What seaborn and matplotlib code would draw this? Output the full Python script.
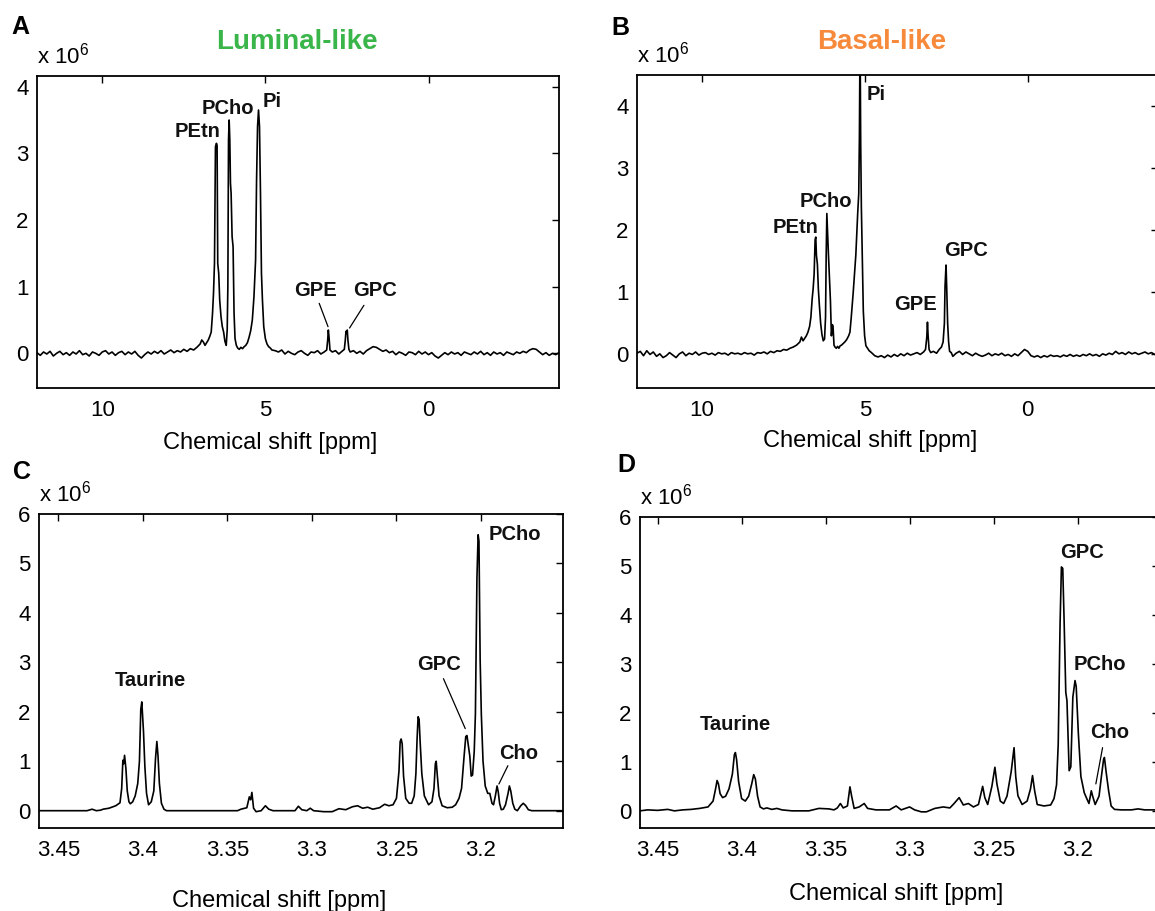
import matplotlib
matplotlib.use("Agg")
import matplotlib.pyplot as plt
import seaborn as sns

# ---------------- data (intensities in units of 1e6) ----------------
# Panel A: 31P spectrum, luminal-like
a_ppm = [12.0, 11.9, 11.8, 11.7, 11.6, 11.5, 11.4, 11.3, 11.2, 11.1,
         11.0, 10.9, 10.8, 10.7, 10.6, 10.5, 10.4, 10.3, 10.2, 10.1,
         10.0, 9.9, 9.8, 9.7, 9.6, 9.5, 9.4, 9.3, 9.2, 9.1,
         9.0, 8.9, 8.8, 8.7, 8.6, 8.5, 8.4, 8.3, 8.2, 8.1,
         8.0, 7.9, 7.8, 7.7, 7.6, 7.5, 7.4, 7.3, 7.2, 7.1,
         7.0, 6.95, 6.9, 6.85, 6.8, 6.75, 6.7, 6.66, 6.62, 6.59,
         6.56, 6.53, 6.5, 6.48, 6.46, 6.43, 6.4, 6.36, 6.32, 6.28,
         6.24, 6.2, 6.17, 6.15, 6.13, 6.11, 6.09, 6.07, 6.05, 6.02,
         5.99, 5.96, 5.93, 5.89, 5.85, 5.8, 5.75, 5.7, 5.65, 5.6,
         5.55, 5.5, 5.45, 5.4, 5.35, 5.3, 5.27, 5.24, 5.21, 5.18,
         5.15, 5.12, 5.09, 5.05, 5.0, 4.95, 4.9, 4.85, 4.8,
         4.7, 4.6, 4.5, 4.4, 4.3, 4.2, 4.1, 4.0, 3.9, 3.8,
         3.7, 3.6, 3.5, 3.4, 3.3, 3.2,
         3.12, 3.09, 3.07, 3.05, 3.02, 2.95, 2.85, 2.75, 2.65, 2.58,
         2.55, 2.53, 2.51, 2.49, 2.47, 2.44, 2.4,
         2.3, 2.2, 2.1, 2.0, 1.9, 1.8, 1.7, 1.6, 1.5, 1.4,
         1.3, 1.2, 1.1, 1.0, 0.9, 0.8, 0.7, 0.6, 0.5, 0.4,
         0.3, 0.2, 0.1, 0.0, -0.1, -0.2, -0.3, -0.4, -0.5, -0.6,
         -0.7, -0.8, -0.9, -1.0, -1.1, -1.2, -1.3, -1.4, -1.5, -1.6,
         -1.7, -1.8, -1.9, -2.0, -2.1, -2.2, -2.3, -2.4, -2.5, -2.6,
         -2.7, -2.8, -2.9, -3.0, -3.1, -3.2, -3.3, -3.4, -3.5, -3.6,
         -3.7, -3.8, -3.9, -4.0]
a_int = [0.01, -0.03, 0.02, -0.01, 0.03, -0.04, 0.00, 0.03, -0.02, 0.01,
         -0.03, 0.02, -0.01, 0.04, -0.02, 0.00, -0.04, 0.02, 0.00, -0.03,
         0.02, 0.04, -0.01, 0.02, -0.03, 0.01, 0.03, -0.02, 0.02, -0.01,
         0.03, -0.03, -0.07, -0.02, 0.02, -0.01, 0.03, 0.00, 0.04, -0.01,
         0.02, 0.05, 0.01, 0.04, 0.02, 0.06, 0.03, 0.07, 0.05, 0.09,
         0.14, 0.20, 0.17, 0.12, 0.16, 0.20, 0.26, 0.32, 0.60, 0.90,
         1.35, 3.10, 3.15, 3.12, 1.35, 1.20, 0.80, 0.55, 0.40, 0.32,
         0.18, 0.12, 0.35, 1.00, 3.20, 3.50, 3.20, 2.55, 2.40, 1.75,
         1.60, 0.60, 0.22, 0.12, 0.08, 0.06, 0.09, 0.07, 0.10, 0.12,
         0.16, 0.24, 0.34, 0.50, 0.85, 1.40, 2.60, 3.40, 3.65, 3.40,
         2.40, 1.20, 0.80, 0.40, 0.22, 0.14, 0.10, 0.08, 0.05,
         0.04, 0.02, 0.05, -0.01, 0.03, 0.00, -0.02, 0.02, 0.04, 0.00,
         -0.03, 0.02, 0.01, 0.04, -0.01, 0.02,
         0.05, 0.20, 0.35, 0.25, 0.05, 0.02, 0.04, -0.01, 0.03, 0.06,
         0.20, 0.33, 0.30, 0.35, 0.20, 0.06, 0.02,
         0.04, 0.00, 0.03, -0.01, 0.04, 0.07, 0.10, 0.09, 0.06, 0.03,
         0.05, 0.01, 0.03, -0.02, 0.02, 0.00, -0.03, 0.02, 0.01, -0.02,
         0.03, -0.01, 0.02, -0.02, 0.01, -0.04, -0.07, -0.03, 0.01, -0.02,
         0.02, -0.01, 0.01, -0.03, 0.02, 0.00, -0.02, 0.02, -0.01, 0.03,
         -0.02, 0.01, -0.03, 0.02, -0.01, 0.01, -0.03, 0.02, 0.00, -0.02,
         0.02, 0.00, 0.03, 0.01, 0.05, 0.07, 0.06, 0.02, -0.02, 0.01,
         -0.03, 0.00, -0.02, 0.01]

# Panel B: 31P spectrum, basal-like
b_ppm = [12.0, 11.9, 11.8, 11.7, 11.6, 11.5, 11.4, 11.3, 11.2, 11.1,
         11.0, 10.9, 10.8, 10.7, 10.6, 10.5, 10.4, 10.3, 10.2, 10.1,
         10.0, 9.9, 9.8, 9.7, 9.6, 9.5, 9.4, 9.3, 9.2, 9.1,
         9.0, 8.9, 8.8, 8.7, 8.6, 8.5, 8.4, 8.3, 8.2, 8.1,
         8.0, 7.9, 7.8, 7.7, 7.6, 7.5, 7.4, 7.3, 7.2, 7.1,
         7.0, 6.95, 6.9, 6.85, 6.8, 6.75, 6.7, 6.66, 6.62, 6.59,
         6.56, 6.53, 6.51, 6.49, 6.46, 6.43, 6.4, 6.36, 6.32, 6.28,
         6.24, 6.21, 6.19, 6.17, 6.15, 6.12, 6.09, 6.06, 6.03, 6.0,
         5.98, 5.95, 5.92, 5.88, 5.84, 5.8, 5.76, 5.72, 5.68, 5.62,
         5.56, 5.5, 5.46, 5.42, 5.36, 5.28, 5.22, 5.19, 5.17, 5.15,
         5.13, 5.11, 5.08, 5.05, 5.01, 4.97, 4.92, 4.87,
         4.8, 4.7, 4.6, 4.5, 4.4, 4.3, 4.2, 4.1, 4.0, 3.9,
         3.8, 3.7, 3.6, 3.5, 3.4, 3.3, 3.2,
         3.14, 3.10, 3.08, 3.06, 3.03, 2.98, 2.9, 2.8, 2.72, 2.65,
         2.6, 2.56, 2.54, 2.51, 2.49, 2.46, 2.43, 2.4, 2.35,
         2.3, 2.2, 2.1, 2.0, 1.9, 1.8, 1.7, 1.6, 1.5, 1.4,
         1.3, 1.2, 1.1, 1.0, 0.9, 0.8, 0.7, 0.6, 0.5, 0.4,
         0.3, 0.2, 0.1, 0.0, -0.1, -0.2, -0.3, -0.4, -0.5, -0.6,
         -0.7, -0.8, -0.9, -1.0, -1.1, -1.2, -1.3, -1.4, -1.5, -1.6,
         -1.7, -1.8, -1.9, -2.0, -2.1, -2.2, -2.3, -2.4, -2.5, -2.6,
         -2.7, -2.8, -2.9, -3.0, -3.1, -3.2, -3.3, -3.4, -3.5, -3.6,
         -3.7, -3.8, -3.9, -4.0]
b_int = [0.02, 0.05, -0.02, 0.06, 0.00, 0.04, -0.03, 0.01, -0.05, -0.02,
         0.03, -0.01, -0.05, 0.01, 0.04, -0.02, 0.02, 0.00, 0.04, -0.01,
         0.02, 0.03, 0.00, 0.02, -0.01, 0.03, 0.01, 0.02, -0.01, 0.03,
         0.01, 0.02, 0.00, 0.03, 0.01, 0.02, -0.01, 0.03, 0.02, 0.04,
         0.01, 0.05, 0.03, 0.06, 0.05, 0.08, 0.07, 0.10, 0.12, 0.15,
         0.20, 0.28, 0.22, 0.26, 0.30, 0.36, 0.45, 0.60, 0.90, 1.06,
         1.30, 1.85, 1.89, 1.60, 1.45, 1.05, 0.80, 0.50, 0.32, 0.22,
         0.25, 0.60, 1.60, 2.27, 2.00, 1.60, 1.25, 0.87, 0.30, 0.48,
         0.45, 0.15, 0.12, 0.10, 0.13, 0.10, 0.14, 0.15, 0.17, 0.20,
         0.24, 0.30, 0.36, 0.60, 1.00, 1.60, 2.30, 2.59, 3.50, 5.20,
         3.40, 2.38, 1.50, 0.70, 0.30, 0.14, 0.10, 0.06,
         0.03, -0.02, -0.04, -0.02, -0.05, -0.01, -0.04, 0.00, -0.03, 0.01,
         -0.02, 0.02, -0.01, 0.01, 0.03, 0.00, 0.04,
         0.08, 0.28, 0.52, 0.30, 0.08, 0.03, 0.05, 0.02, 0.08, 0.12,
         0.20, 0.50, 1.10, 1.44, 1.10, 0.50, 0.20, 0.05, 0.03,
         -0.03, 0.02, 0.05, 0.00, 0.04, 0.01, -0.02, 0.02, -0.01, -0.03,
         -0.01, 0.02, -0.02, 0.01, -0.01, 0.02, -0.02, 0.00, -0.03, 0.01,
         -0.02, 0.03, 0.08, 0.05, -0.02, -0.04, -0.02, -0.05, -0.02, -0.04,
         -0.01, -0.03, -0.02, -0.04, -0.01, -0.03, 0.00, -0.03, -0.01, -0.03,
         0.00, -0.02, 0.01, -0.02, 0.00, -0.03, 0.01, -0.01, 0.02, 0.00,
         0.05, 0.01, 0.03, 0.00, 0.04, 0.01, 0.03, 0.00, 0.02, 0.04,
         0.01, 0.03, 0.00, 0.02]

# Panel C: 1H spectrum 3.15-3.46 ppm, luminal-like
c_ppm = [3.4614, 3.4330, 3.4300, 3.4275, 3.4250, 3.4235, 3.4200, 3.4160, 3.4135, 3.4125,
         3.4118, 3.4113, 3.4108, 3.4100, 3.4092, 3.4082, 3.4074, 3.4060, 3.4045, 3.4030,
         3.4020, 3.4012, 3.4006, 3.4002, 3.3996, 3.3988, 3.3978, 3.3966, 3.3950, 3.3935,
         3.3925, 3.3917, 3.3910, 3.3902, 3.3890, 3.3875, 3.3860, 3.3440, 3.3420, 3.3385,
         3.3370, 3.3362, 3.3355, 3.3345, 3.3330, 3.3300, 3.3275, 3.3255, 3.3230, 3.3100,
         3.3080, 3.3060, 3.3030, 3.3010, 3.2990, 3.2930, 3.2880, 3.2840, 3.2800, 3.2760,
         3.2730, 3.2700, 3.2670, 3.2640, 3.2600, 3.2570, 3.2545, 3.2520, 3.2500, 3.2485,
         3.2478, 3.2472, 3.2466, 3.2458, 3.2445, 3.2425, 3.2410, 3.2395, 3.2385, 3.2378,
         3.2372, 3.2366, 3.2360, 3.2350, 3.2335, 3.2310, 3.2290, 3.2278, 3.2270, 3.2265,
         3.2258, 3.2248, 3.2230, 3.2200, 3.2170, 3.2150, 3.2130, 3.2115, 3.2100, 3.2090,
         3.2083, 3.2076, 3.2066, 3.2058, 3.2050, 3.2040, 3.2033, 3.2024, 3.2017, 3.2012,
         3.2005, 3.1998, 3.1988, 3.1975, 3.1960, 3.1948, 3.1935, 3.1926, 3.1915, 3.1905,
         3.1898, 3.1890, 3.1880, 3.1868, 3.1855, 3.1840, 3.1832, 3.1824, 3.1812, 3.1800,
         3.1785, 3.1765, 3.1750, 3.1735, 3.1720, 3.1700, 3.1515]
c_int = [0.00, 0.00, 0.03, 0.00, 0.01, 0.03, 0.05, 0.10, 0.16, 0.45,
         1.02, 0.95, 1.12, 0.85, 0.40, 0.18, 0.14, 0.18, 0.30, 0.55,
         1.00, 2.05, 2.20, 1.95, 1.60, 0.90, 0.35, 0.12, 0.18, 0.40,
         1.05, 1.40, 1.10, 0.55, 0.15, 0.03, 0.00, 0.00, 0.03, 0.06,
         0.28, 0.22, 0.37, 0.05, -0.02, 0.00, 0.10, 0.03, 0.00, 0.00,
         0.09, 0.02, 0.00, 0.05, 0.00, -0.02, -0.02, 0.04, 0.02, 0.08,
         0.10, 0.05, 0.07, 0.03, 0.06, 0.13, 0.10, 0.12, 0.25, 0.80,
         1.40, 1.45, 1.35, 0.70, 0.25, 0.15, 0.15, 0.30, 0.75, 1.45,
         1.90, 1.85, 1.40, 0.75, 0.30, 0.12, 0.18, 0.45, 0.95, 1.00,
         0.70, 0.30, 0.10, 0.06, 0.07, 0.12, 0.25, 0.45, 1.10, 1.50,
         1.52, 1.35, 1.10, 0.70, 0.72, 1.20, 1.96, 4.70, 5.58, 5.45,
         3.05, 1.95, 1.00, 0.50, 0.35, 0.35, 0.15, 0.12, 0.30, 0.50,
         0.38, 0.15, 0.02, 0.03, 0.12, 0.35, 0.50, 0.40, 0.15, 0.03,
         0.00, 0.10, 0.15, 0.10, 0.02, 0.00, 0.00]

# Panel D: 1H spectrum 3.15-3.46 ppm, basal-like
d_ppm = [3.4605, 3.4560, 3.4500, 3.4440, 3.4400, 3.4350, 3.4300, 3.4250, 3.4200, 3.4170,
         3.4155, 3.4146, 3.4138, 3.4128, 3.4113, 3.4095, 3.4075, 3.4055, 3.4043, 3.4037,
         3.4030, 3.4018, 3.4000, 3.3978, 3.3958, 3.3940, 3.3928, 3.3918, 3.3905, 3.3890,
         3.3870, 3.3850, 3.3820, 3.3790, 3.3760, 3.3700, 3.3600, 3.3540, 3.3480, 3.3450,
         3.3430, 3.3412, 3.3395, 3.3370, 3.3355, 3.3345, 3.3330, 3.3300, 3.3270, 3.3250,
         3.3200, 3.3120, 3.3080, 3.3050, 3.3000, 3.2970, 3.2930, 3.2900, 3.2850, 3.2800,
         3.2760, 3.2735, 3.2705, 3.2680, 3.2650, 3.2620, 3.2590, 3.2565, 3.2552, 3.2535,
         3.2510, 3.2492, 3.2480, 3.2460, 3.2440, 3.2420, 3.2395, 3.2378, 3.2368, 3.2355,
         3.2330, 3.2300, 3.2280, 3.2268, 3.2255, 3.2240, 3.2200, 3.2160, 3.2140, 3.2125,
         3.2115, 3.2104, 3.2096, 3.2088, 3.2080, 3.2070, 3.2063, 3.2050, 3.2040, 3.2028,
         3.2015, 3.2008, 3.1995, 3.1980, 3.1960, 3.1945, 3.1932, 3.1918, 3.1910, 3.1895,
         3.1872, 3.1858, 3.1845, 3.1840, 3.1830, 3.1815, 3.1800, 3.1780, 3.1740, 3.1680,
         3.1640, 3.1600, 3.1480]
d_int = [0.00, 0.02, 0.01, 0.03, 0.00, 0.02, 0.03, 0.05, 0.08, 0.20,
         0.45, 0.62, 0.55, 0.35, 0.27, 0.30, 0.45, 0.75, 1.15, 1.19,
         1.05, 0.60, 0.25, 0.20, 0.30, 0.55, 0.74, 0.65, 0.30, 0.08,
         0.04, 0.06, 0.03, 0.05, 0.02, 0.00, 0.00, 0.05, 0.04, 0.02,
         0.06, 0.15, 0.06, 0.10, 0.49, 0.30, 0.05, 0.08, 0.15, 0.05,
         0.02, 0.02, 0.10, 0.02, 0.08, 0.02, -0.02, -0.02, 0.05, 0.08,
         0.06, 0.15, 0.27, 0.12, 0.15, 0.08, 0.13, 0.50, 0.27, 0.13,
         0.50, 0.89, 0.55, 0.20, 0.15, 0.30, 0.80, 1.29, 0.70, 0.31,
         0.13, 0.20, 0.45, 0.72, 0.40, 0.13, 0.10, 0.12, 0.25, 0.53,
         1.36, 3.82, 4.98, 4.95, 3.89, 2.42, 2.25, 0.82, 0.90, 2.32,
         2.66, 2.54, 1.57, 0.70, 0.37, 0.25, 0.15, 0.41, 0.30, 0.13,
         0.30, 0.70, 1.05, 1.09, 0.80, 0.41, 0.10, 0.03, 0.02, 0.02,
         0.04, 0.02, 0.02]

p31_xticks = [10, 5, 0]
p31_yticks = [0, 1, 2, 3, 4]
h1_xticks = [3.45, 3.4, 3.35, 3.3, 3.25, 3.2]
h1_xlabels = ["3.45", "3.4", "3.35", "3.3", "3.25", "3.2"]
h1_yticks = [0, 1, 2, 3, 4, 5, 6]

# peak labels: (text, ppm, intensity)
a_labels = [("PEtn", 7.08, 3.33), ("PCho", 6.15, 3.67), ("Pi", 4.78, 3.78),
            ("GPE", 3.46, 0.94), ("GPC", 1.65, 0.94)]
b_labels = [("Pi", 4.67, 4.19), ("PCho", 6.20, 2.47), ("PEtn", 7.13, 2.05),
            ("GPE", 3.46, 0.80), ("GPC", 1.89, 1.68)]
c_labels = [("Taurine", 3.3955, 2.63), ("GPC", 3.2247, 2.96),
            ("PCho", 3.1798, 5.58), ("Cho", 3.1779, 1.15)]
d_labels = [("Taurine", 3.4039, 1.76), ("GPC", 3.1975, 5.27),
            ("PCho", 3.1866, 2.99), ("Cho", 3.1806, 1.59)]
# leader lines: (ppm_start, int_start, ppm_end, int_end)
a_leaders = [(3.35, 0.75, 3.08, 0.40), (1.98, 0.72, 2.42, 0.38)]
c_leaders = [(3.2222, 2.67, 3.2093, 1.66), (3.1841, 0.91, 3.1894, 0.54)]
d_leaders = [(3.1851, 1.29, 3.1891, 0.55)]

# ---------------- figure ----------------
sns.set_style("white")
plt.rcParams["font.family"] = ["Liberation Sans", "DejaVu Sans"]
plt.rcParams["mathtext.default"] = "regular"
plt.rcParams["text.color"] = "black"
plt.rcParams["axes.labelcolor"] = "black"
plt.rcParams["xtick.color"] = "black"
plt.rcParams["ytick.color"] = "black"

W, H = 1155, 911
fig = plt.figure(figsize=(W / 100, H / 100), dpi=100)


def px_axes(left, top, right, bottom):
    return fig.add_axes([left / W, 1 - bottom / H, (right - left) / W, (bottom - top) / H])


def draw_panel(ax, ppm, inten, xlim, ylim, xticks, xlabels, yticks, xlab_xy,
               labels, leaders):
    sns.lineplot(x=ppm, y=inten, ax=ax, color="black", linewidth=1.2,
                 sort=False, estimator=None)
    ax.set_xlim(*xlim)
    ax.set_ylim(*ylim)
    ax.set_xticks(xticks)
    ax.set_xticklabels(xlabels)
    ax.set_yticks(yticks)
    ax.set_yticklabels([str(t) for t in yticks])
    ax.tick_params(direction="in", top=True, right=True, length=5, width=1,
                   labelsize=16, colors="black")
    ax.tick_params(axis="x", pad=9)
    ax.tick_params(axis="y", pad=6)
    for s in ax.spines.values():
        s.set_visible(True)
        s.set_color("black")
        s.set_linewidth(1.3)
    ax.set_ylabel("")
    ax.set_xlabel("Chemical shift [ppm]", fontsize=17, color="black")
    ax.xaxis.set_label_coords(*xlab_xy)
    for txt, x, y in labels:
        ax.text(x, y, txt, ha="center", va="center", fontsize=14.5,
                fontweight="bold", color="#111111")
    for x0, y0, x1, y1 in leaders:
        ax.plot([x0, x1], [y0, y1], color="black", linewidth=0.9)
    ax.annotate(r"x 10$^{6}$", xy=(0, 1), xycoords="axes fraction",
                xytext=(0, 9), textcoords="offset points",
                ha="left", va="baseline", fontsize=16, color="black")


ax_a = px_axes(37, 76, 559, 388)
ax_b = px_axes(637, 75, 1158, 388)
ax_c = px_axes(39, 514, 563, 828)
ax_d = px_axes(640, 517, 1159, 828)

draw_panel(ax_a, a_ppm, a_int, (12, -4), (-0.52, 4.16), p31_xticks,
           [str(t) for t in p31_xticks], p31_yticks, (0.446, -0.141),
           a_labels, a_leaders)
draw_panel(ax_b, b_ppm, b_int, (12, -4), (-0.54, 4.5), p31_xticks,
           [str(t) for t in p31_xticks], p31_yticks, (0.447, -0.135),
           b_labels, [])
draw_panel(ax_c, c_ppm, c_int, (3.4614, 3.1515), (-0.35, 6), h1_xticks,
           h1_xlabels, h1_yticks, (0.458, -0.197), c_labels, c_leaders)
draw_panel(ax_d, d_ppm, d_int, (3.4605, 3.1515), (-0.35, 6), h1_xticks,
           h1_xlabels, h1_yticks, (0.493, -0.177), d_labels, d_leaders)

# panel letters and group titles
for letter, x, y in [("A", 11, 27), ("B", 611, 28), ("C", 13, 472), ("D", 617, 465)]:
    fig.text(x / W, 1 - y / H, letter, ha="left", va="center", fontsize=18,
             fontweight="bold", color="black")
fig.text(297 / W, 1 - 42 / H, "Luminal-like", ha="center", va="center",
         fontsize=20, fontweight="bold", color="#3ab54a")
fig.text(882 / W, 1 - 42 / H, "Basal-like", ha="center", va="center",
         fontsize=20, fontweight="bold", color="#f7893b")

fig.savefig("out.png", dpi=100, facecolor="white")
